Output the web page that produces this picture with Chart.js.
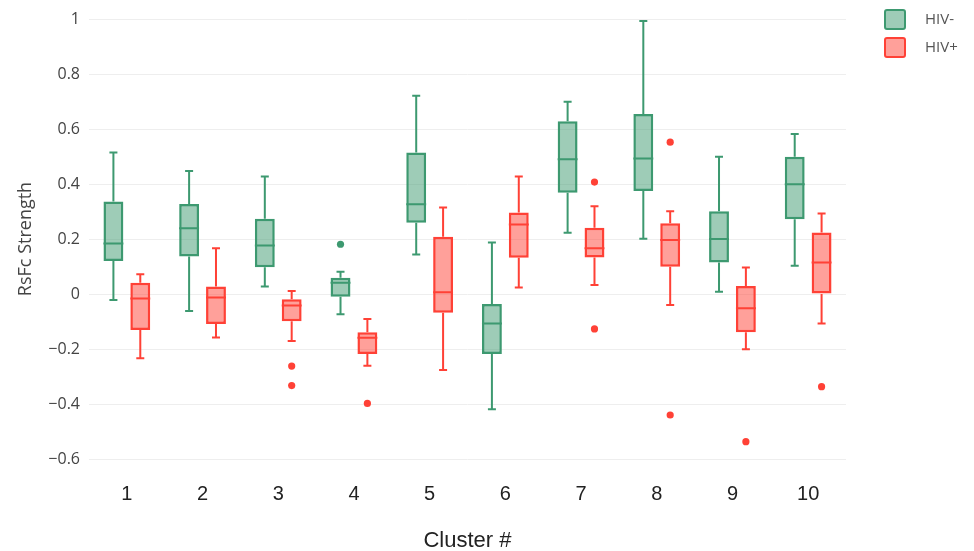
<!DOCTYPE html>
<html>
<head>
<meta charset="utf-8">
<script src="https://cdn.jsdelivr.net/npm/chart.js@4.4.1/dist/chart.umd.min.js"></script>
<style>
  html, body { margin: 0; padding: 0; background: #fff; }
  #wrap { width: 974px; height: 551px; position: relative; }
</style>
</head>
<body>
<div id="wrap"><canvas id="chart"></canvas></div>
<script>
// 聚类编号
const categories = ['1', '2', '3', '4', '5', '6', '7', '8', '9', '10'];
const yTicks = [-0.6, -0.4, -0.2, 0, 0.2, 0.4, 0.6, 0.8, 1];

// HIV- 箱线数据
const hivNegLow  = [-0.022, -0.062, 0.027, -0.074, 0.144, -0.419, 0.223, 0.201, 0.008, 0.103];
const hivNegQ1   = [0.120, 0.136, 0.097, -0.010, 0.259, -0.218, 0.368, 0.375, 0.115, 0.272];
const hivNegMed  = [0.184, 0.239, 0.176, 0.041, 0.326, -0.107, 0.490, 0.493, 0.200, 0.399];
const hivNegQ3   = [0.336, 0.327, 0.274, 0.059, 0.515, -0.036, 0.628, 0.655, 0.301, 0.499];
const hivNegHigh = [0.515, 0.447, 0.427, 0.081, 0.721, 0.187, 0.699, 0.993, 0.499, 0.582];
const hivNegOut  = [[], [], [], [0.181], [], [], [], [], [], []];

// HIV+ 箱线数据
const hivPosLow  = [-0.234, -0.158, -0.171, -0.261, -0.276, 0.024, 0.033, -0.040, -0.201, -0.107];
const hivPosQ1   = [-0.131, -0.109, -0.099, -0.218, -0.068, 0.132, 0.133, 0.099, -0.139, 0.000];
const hivPosMed  = [-0.016, -0.013, -0.042, -0.159, 0.006, 0.253, 0.166, 0.196, -0.052, 0.115];
const hivPosQ3   = [0.041, 0.027, -0.019, -0.139, 0.208, 0.296, 0.241, 0.257, 0.029, 0.224];
const hivPosHigh = [0.072, 0.166, 0.011, -0.091, 0.315, 0.427, 0.319, 0.301, 0.096, 0.293];
const hivPosOut  = [[], [], [-0.262, -0.333], [-0.398], [], [], [0.407, -0.127], [0.552, -0.440], [-0.537], [-0.337]];

const groups = [
  { label: 'HIV-', low: hivNegLow, q1: hivNegQ1, med: hivNegMed, q3: hivNegQ3, high: hivNegHigh, out: hivNegOut,
    line: '#3D9970', fill: 'rgba(61, 153, 112, 0.5)' },
  { label: 'HIV+', low: hivPosLow, q1: hivPosQ1, med: hivPosMed, q3: hivPosQ3, high: hivPosHigh, out: hivPosOut,
    line: '#FF4136', fill: 'rgba(255, 65, 54, 0.5)' }
];

// 须线、中位数、离群点
const boxPlugin = {
  id: 'boxWhiskers',
  afterDatasetsDraw(chart) {
    const ctx = chart.ctx;
    const y = chart.scales.y;
    groups.forEach((g, di) => {
      const meta = chart.getDatasetMeta(di);
      meta.data.forEach((bar, i) => {
        const { x, width } = bar.getProps(['x', 'width'], true);
        const half = width / 2;
        ctx.save();
        ctx.strokeStyle = g.line;
        ctx.lineWidth = 2;
        ctx.beginPath();
        // 上须
        ctx.moveTo(x, y.getPixelForValue(g.q3[i]));
        ctx.lineTo(x, y.getPixelForValue(g.high[i]));
        ctx.moveTo(x - 4, y.getPixelForValue(g.high[i]));
        ctx.lineTo(x + 4, y.getPixelForValue(g.high[i]));
        // 下须
        ctx.moveTo(x, y.getPixelForValue(g.q1[i]));
        ctx.lineTo(x, y.getPixelForValue(g.low[i]));
        ctx.moveTo(x - 4, y.getPixelForValue(g.low[i]));
        ctx.lineTo(x + 4, y.getPixelForValue(g.low[i]));
        // 中位数
        ctx.moveTo(x - half, y.getPixelForValue(g.med[i]));
        ctx.lineTo(x + half, y.getPixelForValue(g.med[i]));
        ctx.stroke();
        // 离群点
        ctx.fillStyle = g.line;
        g.out[i].forEach(v => {
          ctx.beginPath();
          ctx.arc(x, y.getPixelForValue(v), 3.6, 0, Math.PI * 2);
          ctx.fill();
        });
        ctx.restore();
      });
    });
  }
};

// 右上角图例
const legendPlugin = {
  id: 'sideLegend',
  afterDraw(chart) {
    const ctx = chart.ctx;
    groups.forEach((g, i) => {
      const top = 10 + i * 28;
      ctx.save();
      ctx.fillStyle = g.fill;
      ctx.strokeStyle = g.line;
      ctx.lineWidth = 2;
      ctx.beginPath();
      ctx.roundRect(885, top, 20, 19, 2);
      ctx.fill();
      ctx.stroke();
      ctx.fillStyle = '#555';
      ctx.font = '15px "Open Sans"';
      ctx.textBaseline = 'middle';
      ctx.fillText(g.label, 925, top + 10);
      ctx.restore();
    });
  }
};

new Chart(document.getElementById('chart'), {
  type: 'bar',
  data: {
    labels: categories,
    datasets: groups.map(g => ({
      label: g.label,
      data: g.q1.map((v, i) => [v, g.q3[i]]),
      backgroundColor: g.fill,
      borderColor: g.line,
      borderWidth: 2.5,
      borderSkipped: false,
      categoryPercentage: 0.71,
      barPercentage: 0.74
    }))
  },
  options: {
    responsive: true,
    maintainAspectRatio: false,
    animation: false,
    layout: { padding: { left: 0, right: 128, top: 19, bottom: 0 } },
    plugins: {
      legend: { display: false },
      tooltip: { enabled: false }
    },
    scales: {
      x: {
        grid: { display: false },
        border: { display: false },
        ticks: {
          color: '#222',
          padding: 15,
          font: { family: '"Liberation Sans", Arial', size: 20 }
        },
        title: {
          display: true,
          text: 'Cluster #',
          color: '#222',
          padding: { top: 4, bottom: 0 },
          font: { family: '"Liberation Sans", Arial', size: 22, lineHeight: 0.9 }
        },
        afterFit(scale) { scale.height = 92; }
      },
      y: {
        min: -0.6,
        max: 1,
        afterBuildTicks(scale) {
          scale.ticks = yTicks.map(v => ({ value: v }));
        },
        grid: { color: '#eeeeee', lineWidth: 1, drawTicks: false },
        border: { display: false },
        ticks: {
          color: '#444',
          padding: 9,
          font: { family: '"Open Sans"', size: 16 },
          callback: v => String(Number(v.toFixed(1))).replace('-', '\u2212')
        },
        title: {
          display: true,
          text: 'RsFc Strength',
          color: '#444',
          padding: { top: 15, bottom: 0 },
          font: { family: '"Open Sans"', size: 18 }
        },
        afterFit(scale) { scale.width = 89; }
      }
    }
  },
  plugins: [boxPlugin, legendPlugin]
});
</script>
</body>
</html>
